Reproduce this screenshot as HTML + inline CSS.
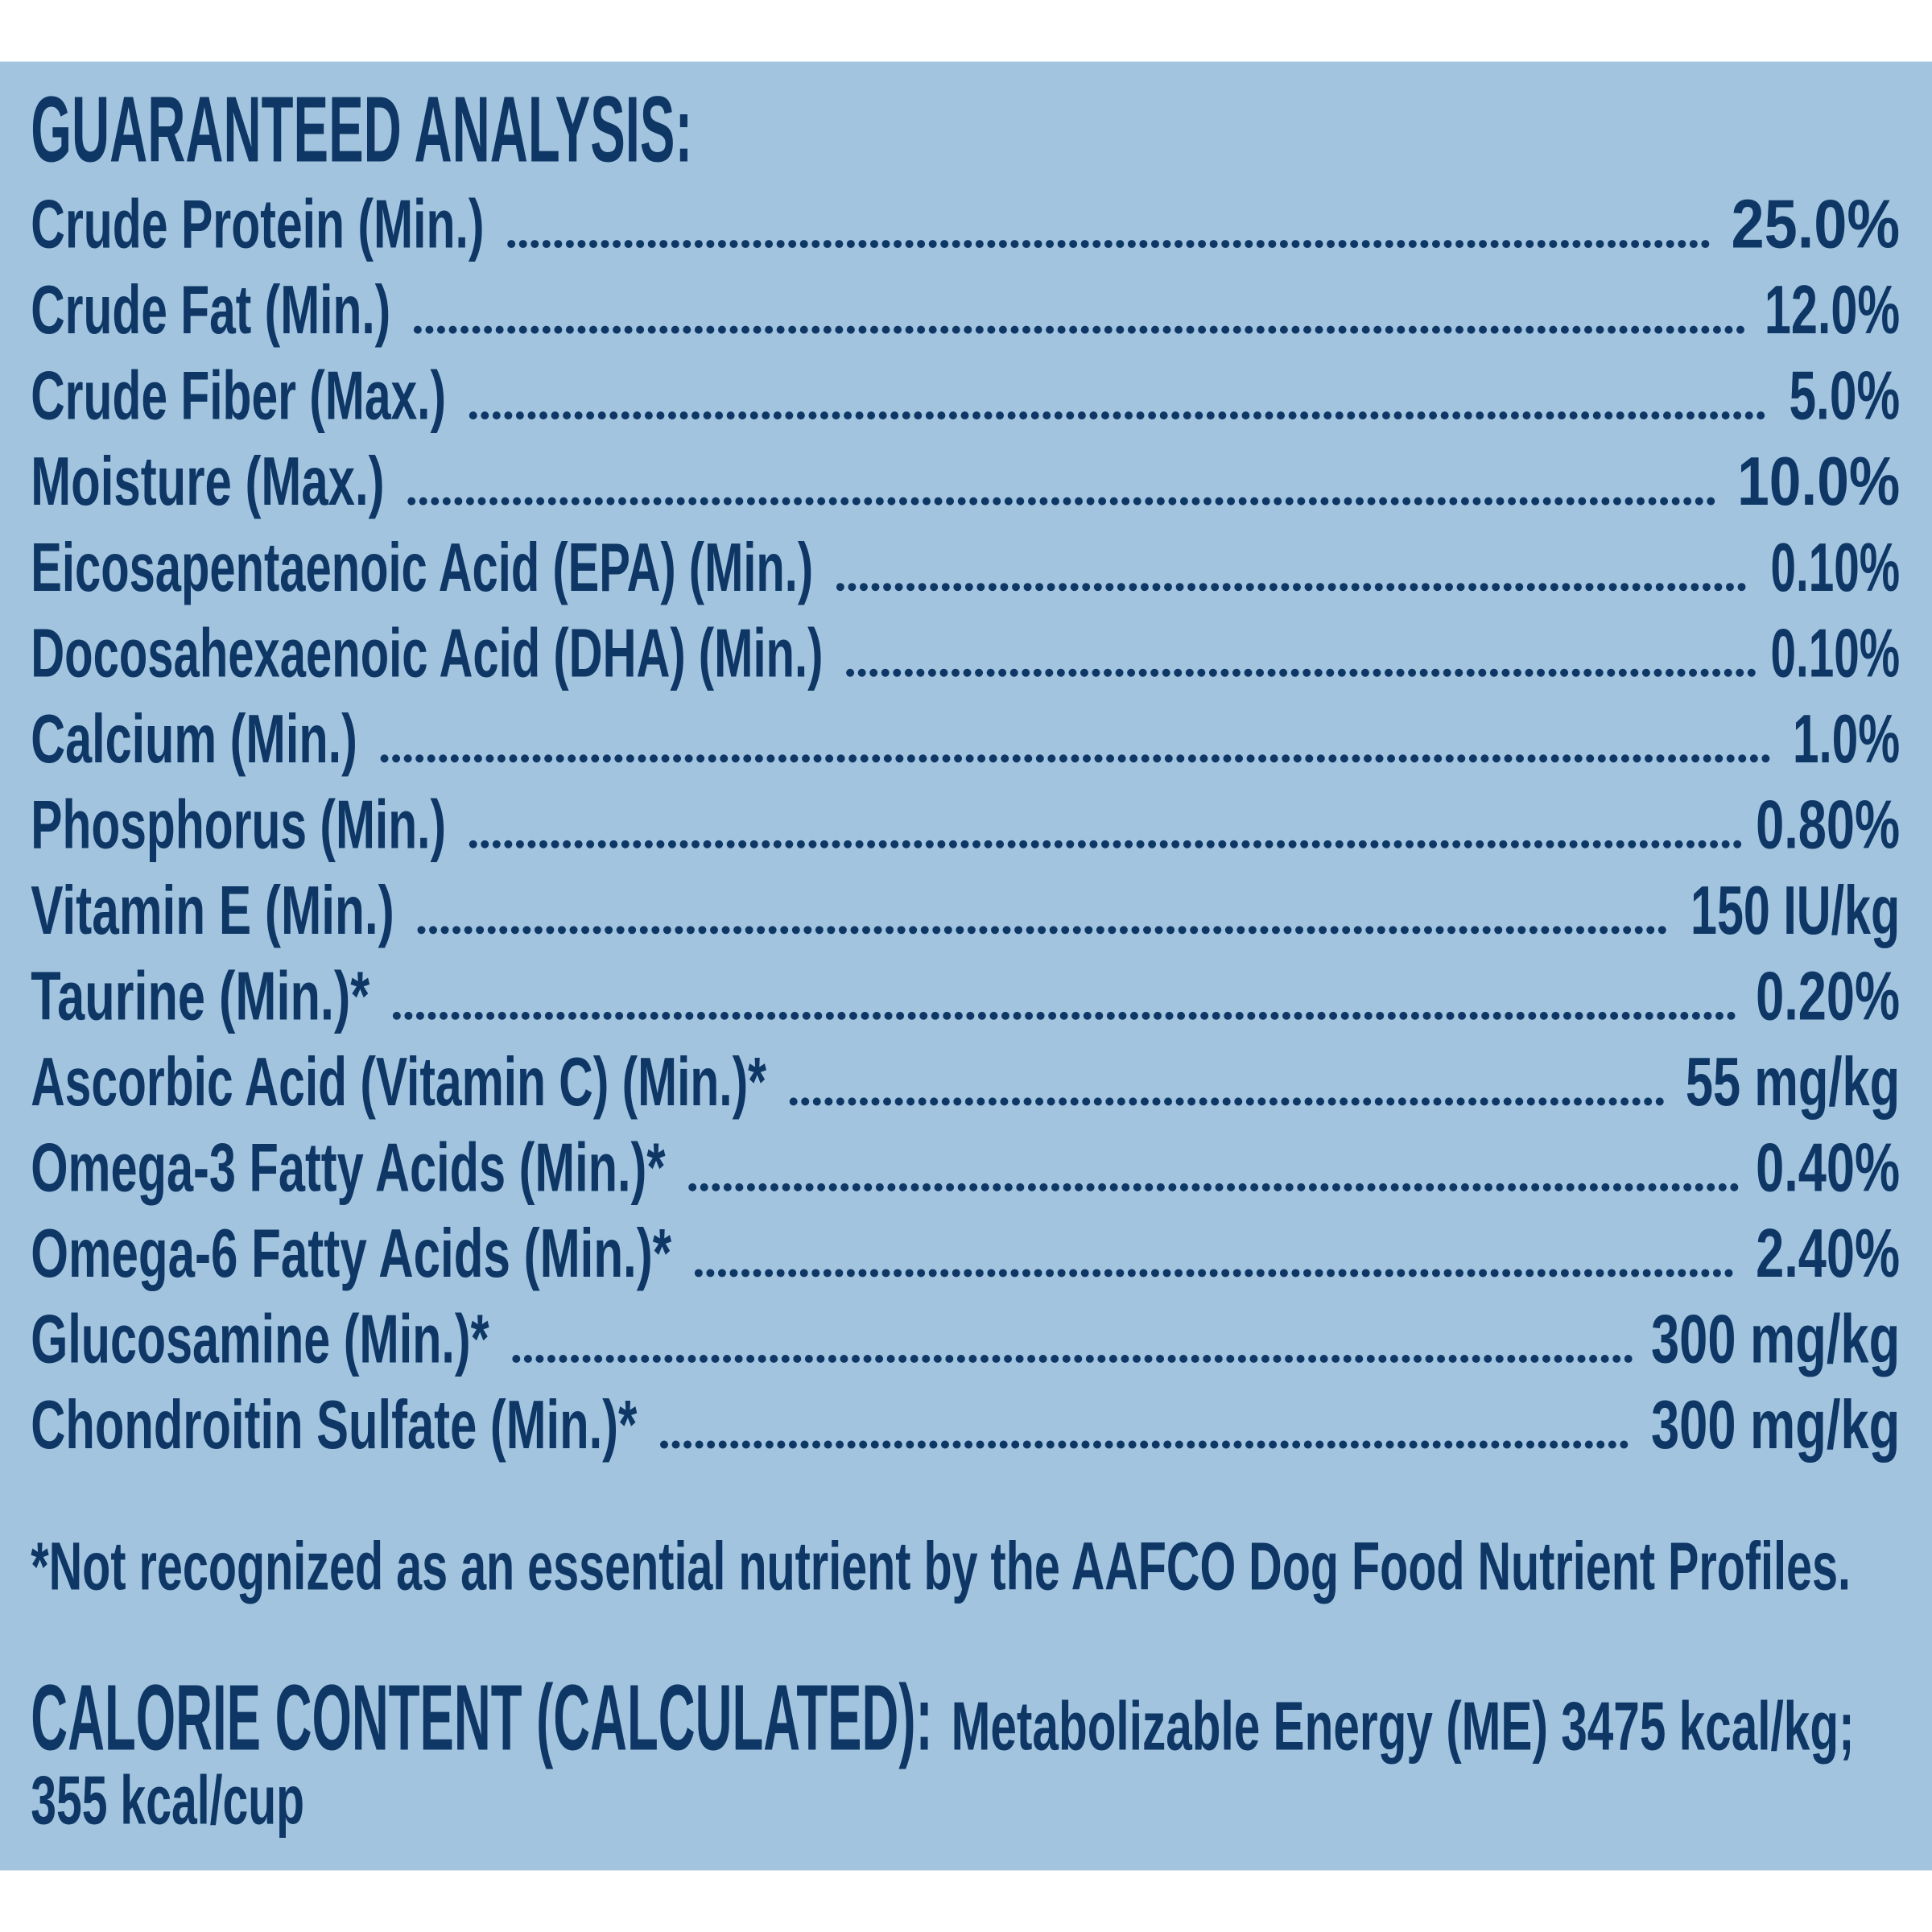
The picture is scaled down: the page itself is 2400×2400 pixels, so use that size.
<!DOCTYPE html>
<html><head><meta charset="utf-8"><style>
html,body{margin:0;padding:0;background:#fff;}
svg{display:block;}
text{font-family:"Liberation Sans Narrow","Liberation Sans",sans-serif;font-weight:bold;fill:#0e3766;}
</style></head><body>
<svg width="2400" height="2400" viewBox="0 0 1568 1568" xmlns="http://www.w3.org/2000/svg">
<rect x="0" y="0" width="1568" height="1568" fill="#ffffff"/>
<rect x="0" y="50" width="1568" height="1468" fill="#a2c4de"/>
<text x="25" y="131" font-size="76" textLength="537" lengthAdjust="spacingAndGlyphs">GUARANTEED ANALYSIS:</text>
<g id="rows"></g>
<text x="25" y="1290" font-size="55" textLength="1477" lengthAdjust="spacingAndGlyphs">*Not recognized as an essential nutrient by the AAFCO Dog Food Nutrient Profiles.</text>
<text x="25" y="1420" font-size="76" textLength="732" lengthAdjust="spacingAndGlyphs">CALORIE CONTENT (CALCULATED):</text>
<text x="772" y="1420" font-size="56" textLength="733" lengthAdjust="spacingAndGlyphs">Metabolizable Energy (ME) 3475 kcal/kg;</text>
<text x="25" y="1480" font-size="56" textLength="222" lengthAdjust="spacingAndGlyphs">355 kcal/cup</text>
</svg>
<script>
const labels=["Crude Protein (Min.)","Crude Fat (Min.)","Crude Fiber (Max.)","Moisture (Max.)","Eicosapentaenoic Acid (EPA) (Min.)","Docosahexaenoic Acid (DHA) (Min.)","Calcium (Min.)","Phosphorus (Min.)","Vitamin E (Min.)","Taurine (Min.)*","Ascorbic Acid (Vitamin C) (Min.)*","Omega-3 Fatty Acids (Min.)*","Omega-6 Fatty Acids (Min.)*","Glucosamine (Min.)*","Chondroitin Sulfate (Min.)*"];
const values=["25.0%","12.0%","5.0%","10.0%","0.10%","0.10%","1.0%","0.80%","150 IU/kg","0.20%","55 mg/kg","0.40%","2.40%","300 mg/kg","300 mg/kg"];
const labelEnds=[393,317,362,312,660,668,290,362,320,300,622,540,545,397,517];
const valueStarts=[1405,1432,1452,1410,1437,1437,1455,1425,1372,1425,1368,1425,1425,1340,1340];
const NS="http://www.w3.org/2000/svg";
const g=document.getElementById('rows');
labels.forEach((lab,i)=>{
  const y=201+69.6*i;
  const t=document.createElementNS(NS,'text');
  
  
  t.setAttribute('x',25);t.setAttribute('y',y);t.setAttribute('font-size',56);
  t.setAttribute('textLength',labelEnds[i]-25);t.setAttribute('lengthAdjust','spacingAndGlyphs');
  t.textContent=lab;g.appendChild(t);
  const l=document.createElementNS(NS,'line');
  
  
  l.setAttribute('x1',labelEnds[i]+22);l.setAttribute('x2',valueStarts[i]-14);
  l.setAttribute('y1',y-3);l.setAttribute('y2',y-3);
  l.setAttribute('stroke','#0e3766');l.setAttribute('stroke-width',6.5);
  l.setAttribute('stroke-linecap','round');l.setAttribute('stroke-dasharray','0 9.5');
  g.appendChild(l);
  const v=document.createElementNS(NS,'text');
  
  
  v.setAttribute('x',valueStarts[i]);v.setAttribute('y',y);v.setAttribute('font-size',56);
  v.setAttribute('textLength',1542-valueStarts[i]);v.setAttribute('lengthAdjust','spacingAndGlyphs');
  v.textContent=values[i];g.appendChild(v);
});
</script>
</body></html>
